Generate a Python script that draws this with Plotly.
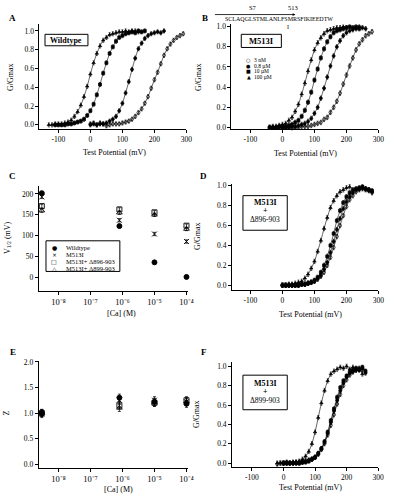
import plotly.graph_objects as go

W, H = 394, 499
FONT = "Liberation Serif"

# ---------------- data ----------------
# Panel A : Wildtype, G/Gmax vs Test Potential (mV)
A_v_100uM = [-130, -120, -110, -100, -90, -80, -70, -60, -50, -40, -30, -20, -10, 0, 10, 20, 30, 40, 50, 60, 70, 80, 90, 100, 110, 120, 130, 140, 150]
A_g_100uM = [0.00, 0.00, 0.01, 0.01, 0.01, 0.02, 0.03, 0.05, 0.09, 0.14, 0.21, 0.30, 0.41, 0.54, 0.66, 0.76, 0.84, 0.90, 0.93, 0.96, 0.97, 0.98, 0.99, 0.99, 1.00, 0.99, 1.00, 1.00, 0.99]
A_v_10uM = [-110, -100, -90, -80, -70, -60, -50, -40, -30, -20, -10, 0, 10, 20, 30, 40, 50, 60, 70, 80, 90, 100, 110, 120, 130, 140, 150, 160, 170]
A_g_10uM = [0.00, 0.00, 0.00, 0.00, 0.01, 0.01, 0.02, 0.03, 0.04, 0.06, 0.10, 0.15, 0.22, 0.32, 0.43, 0.55, 0.66, 0.76, 0.83, 0.89, 0.93, 0.95, 0.97, 0.98, 0.99, 0.98, 1.00, 0.99, 1.00]
A_v_08uM = [0, 10, 20, 30, 40, 50, 60, 70, 80, 90, 100, 110, 120, 130, 140, 150, 160, 170, 180, 190, 200, 210, 220, 230]
A_g_08uM = [0.00, 0.01, 0.00, 0.01, 0.01, 0.02, 0.04, 0.06, 0.09, 0.15, 0.23, 0.34, 0.46, 0.59, 0.71, 0.81, 0.87, 0.92, 0.95, 0.97, 0.98, 0.99, 0.98, 1.00]
A_v_3nM = [0, 10, 20, 30, 40, 50, 60, 70, 80, 90, 100, 110, 120, 130, 140, 150, 160, 170, 180, 190, 200, 210, 220, 230, 240, 250, 260, 270, 280, 290]
A_g_3nM = [0.01, 0.02, 0.00, 0.02, 0.01, -0.01, 0.00, 0.01, 0.01, 0.01, 0.02, 0.03, 0.04, 0.06, 0.09, 0.13, 0.17, 0.23, 0.30, 0.39, 0.48, 0.56, 0.65, 0.74, 0.81, 0.86, 0.90, 0.93, 0.95, 0.97]

# Panel B : M513I
B_v_100uM = [-40, -30, -20, -10, 0, 10, 20, 30, 40, 50, 60, 70, 80, 90, 100, 110, 120, 130, 140, 150, 160, 170, 180, 190, 200]
B_g_100uM = [0.00, 0.01, 0.01, 0.02, 0.03, 0.04, 0.07, 0.10, 0.16, 0.23, 0.33, 0.44, 0.56, 0.67, 0.77, 0.84, 0.89, 0.93, 0.96, 0.97, 0.98, 0.99, 0.99, 1.00, 0.99]
B_v_10uM = [-40, -30, -20, -10, 0, 10, 20, 30, 40, 50, 60, 70, 80, 90, 100, 110, 120, 130, 140, 150, 160, 170, 180, 190, 200, 210, 220, 230, 240]
B_g_10uM = [0.00, 0.00, 0.00, 0.01, 0.01, 0.01, 0.02, 0.03, 0.05, 0.07, 0.11, 0.17, 0.25, 0.35, 0.47, 0.58, 0.69, 0.78, 0.85, 0.90, 0.94, 0.96, 0.97, 0.98, 0.99, 1.00, 0.99, 1.00, 0.98]
B_v_08uM = [-40, -30, -20, -10, 0, 10, 20, 30, 40, 50, 60, 70, 80, 90, 100, 110, 120, 130, 140, 150, 160, 170, 180, 190, 200, 210, 220, 230, 240, 250, 260]
B_g_08uM = [0.00, 0.00, 0.00, 0.00, 0.00, 0.00, 0.00, 0.01, 0.01, 0.02, 0.03, 0.04, 0.06, 0.09, 0.14, 0.20, 0.29, 0.39, 0.50, 0.61, 0.71, 0.80, 0.86, 0.91, 0.94, 0.96, 0.97, 0.98, 1.00, 0.99, 0.98]
B_v_3nM = [0, 10, 20, 30, 40, 50, 60, 70, 80, 90, 100, 110, 120, 130, 140, 150, 160, 170, 180, 190, 200, 210, 220, 230, 240, 250, 260, 270, 280]
B_g_3nM = [0.00, 0.00, 0.00, -0.01, 0.00, 0.00, 0.01, 0.01, 0.01, 0.02, 0.03, 0.04, 0.05, 0.08, 0.10, 0.15, 0.20, 0.26, 0.34, 0.43, 0.52, 0.61, 0.69, 0.77, 0.83, 0.87, 0.91, 0.93, 0.95]

# Panel D : M513I + delta896-903
D_v_100uM = [0, 10, 20, 30, 40, 50, 60, 70, 80, 90, 100, 110, 120, 130, 140, 150, 160, 170, 180, 190, 200, 210]
D_g_100uM = [0.00, 0.00, 0.01, 0.01, 0.02, 0.03, 0.04, 0.07, 0.11, 0.17, 0.24, 0.34, 0.45, 0.57, 0.68, 0.78, 0.85, 0.90, 0.94, 0.96, 0.98, 0.99]
D_v_other = [0, 10, 20, 30, 40, 50, 60, 70, 80, 90, 100, 110, 120, 130, 140, 150, 160, 170, 180, 190, 200, 210, 220, 230, 240, 250, 260, 270, 280]
D_g_10uM = [0.00, 0.00, 0.00, 0.00, 0.00, 0.00, 0.01, 0.01, 0.02, 0.03, 0.05, 0.08, 0.13, 0.20, 0.29, 0.40, 0.52, 0.65, 0.75, 0.83, 0.89, 0.93, 0.96, 0.97, 0.98, 0.99, 0.97, 0.96, 0.95]
D_g_08uM = [0.00, 0.00, 0.00, 0.00, 0.00, 0.00, 0.01, 0.01, 0.02, 0.03, 0.04, 0.07, 0.10, 0.16, 0.23, 0.33, 0.44, 0.56, 0.67, 0.77, 0.84, 0.89, 0.93, 0.96, 0.97, 0.98, 0.97, 0.96, 0.94]
D_g_3nM = [0.00, 0.00, 0.00, 0.00, 0.00, 0.00, 0.01, 0.01, 0.02, 0.03, 0.04, 0.06, 0.09, 0.13, 0.20, 0.28, 0.38, 0.49, 0.60, 0.70, 0.79, 0.86, 0.90, 0.94, 0.96, 0.97, 0.96, 0.95, 0.93]

# Panel F : M513I + delta899-903
F_v_a = [-20, -10, 0, 10, 20, 30, 40, 50, 60, 70, 80, 90, 100, 110, 120, 130, 140, 150, 160, 170, 180, 190, 200, 210, 220, 230, 240, 250]
F_v_b = [0, 10, 20, 30, 40, 50, 60, 70, 80, 90, 100, 110, 120, 130, 140, 150, 160, 170, 180, 190, 200, 210, 220, 230, 240, 250, 260]
F_g_100uM = [0.00, 0.00, 0.00, 0.00, 0.00, 0.01, 0.01, 0.02, 0.04, 0.07, 0.12, 0.20, 0.32, 0.47, 0.62, 0.75, 0.85, 0.92, 0.95, 0.97, 0.99, 0.98, 1.00, 0.97, 0.99, 0.96, 0.98, 0.92]
F_g_10uM = [0.00, 0.00, 0.00, 0.00, 0.00, 0.00, 0.01, 0.01, 0.02, 0.04, 0.06, 0.10, 0.15, 0.22, 0.32, 0.44, 0.56, 0.68, 0.78, 0.85, 0.90, 0.94, 0.96, 0.98, 0.97, 0.99, 0.95]
F_g_08uM = [0.00, 0.00, 0.00, 0.00, 0.00, 0.00, 0.01, 0.02, 0.03, 0.04, 0.06, 0.10, 0.15, 0.22, 0.31, 0.42, 0.54, 0.65, 0.75, 0.83, 0.89, 0.93, 0.95, 0.97, 0.96, 0.98, 0.93]
F_g_3nM = [-0.01, 0.00, 0.00, 0.01, 0.00, 0.00, 0.01, 0.01, 0.01, 0.02, 0.03, 0.04, 0.06, 0.09, 0.14, 0.20, 0.29, 0.39, 0.50, 0.61, 0.71, 0.80, 0.86, 0.91, 0.94, 0.96, 0.97, 0.96]

# Panels C and E : [Ca] (M)
Ca_conc = [3e-9, 8e-7, 1e-5, 1e-4]
C_V12_wildtype = [202, 123, 36, 1]
C_V12_M513I = [193, 137, 104, 86]
C_V12_d896 = [171, 163, 156, 124]
C_V12_d899 = [160, 155, 150, 116]
E_Z_wildtype = [1.00, 1.30, 1.22, 1.18]
E_Z_M513I = [0.98, 1.25, 1.25, 1.22]
E_Z_d896 = [1.00, 1.15, 1.20, 1.25]
E_Z_d899 = [1.00, 1.10, 1.20, 1.22]

GV_ticks = [-100, 0, 100, 200, 300]
GV_ticklabels = ["-100", "0", "100", "200", "300"]
Ca_ticks = [1e-8, 1e-7, 1e-6, 1e-5, 1e-4]
Ca_ticklabels = ["10⁻⁸", "10⁻⁷", "10⁻⁶", "10⁻⁵", "10⁻⁴"]
G_ticks = [0.0, 0.2, 0.4, 0.6, 0.8, 1.0]
V_ticks = [0, 50, 100, 150, 200]
Z_ticks = [0.0, 0.5, 1.0, 1.5, 2.0]

conc_labels = ["3 nM", "0.8 µM", "10 µM", "100 µM"]
group_labels = ["Wildtype", "M513I", "M513I+ Δ896-903", "M513I+ Δ899-903"]
sequence = "SCLAQGLSTMLANLFSMRSFIKIEEDTW"

# ---------------- styles ----------------
SYM = {"3nM": "circle-open", "08uM": "circle", "10uM": "square", "100uM": "triangle-up"}
GROUP_SYM = ["circle", "x-thin-open", "square-open", "triangle-up-open"]

fig = go.Figure()

def gv(v, g, sym, ax):
    fig.add_trace(go.Scatter(
        x=v, y=g, mode="lines+markers", xaxis="x" + ax, yaxis="y" + ax,
        line=dict(color="black", width=0.6, shape="spline", smoothing=0.8),
        marker=dict(symbol=sym, size=3.0, color="black", line=dict(color="black", width=0.7)),
        error_y=dict(type="constant", value=0.022, thickness=0.6, width=1, color="black"),
        cliponaxis=False, showlegend=False))

gv(A_v_100uM, A_g_100uM, SYM["100uM"], "")
gv(A_v_10uM, A_g_10uM, SYM["10uM"], "")
gv(A_v_08uM, A_g_08uM, SYM["08uM"], "")
gv(A_v_3nM, A_g_3nM, SYM["3nM"], "")
gv(B_v_100uM, B_g_100uM, SYM["100uM"], "2")
gv(B_v_10uM, B_g_10uM, SYM["10uM"], "2")
gv(B_v_08uM, B_g_08uM, SYM["08uM"], "2")
gv(B_v_3nM, B_g_3nM, SYM["3nM"], "2")
gv(D_v_100uM, D_g_100uM, SYM["100uM"], "4")
gv(D_v_other, D_g_10uM, SYM["10uM"], "4")
gv(D_v_other, D_g_08uM, SYM["08uM"], "4")
gv(D_v_other, D_g_3nM, SYM["3nM"], "4")
gv(F_v_a, F_g_100uM, SYM["100uM"], "6")
gv(F_v_b, F_g_10uM, SYM["10uM"], "6")
gv(F_v_b, F_g_08uM, SYM["08uM"], "6")
gv(F_v_a, F_g_3nM, SYM["3nM"], "6")

def pts(y, sym, ax, err):
    fig.add_trace(go.Scatter(
        x=Ca_conc, y=y, mode="markers", xaxis="x" + ax, yaxis="y" + ax,
        marker=dict(symbol=sym, size=5, color="black", line=dict(color="black", width=0.9)),
        error_y=dict(type="constant", value=err, thickness=0.7, width=1.5, color="black"),
        cliponaxis=False, showlegend=False))

for yv, s in zip([C_V12_wildtype, C_V12_M513I, C_V12_d896, C_V12_d899], GROUP_SYM):
    pts(yv, s, "3", 4)
for yv, s in zip([E_Z_wildtype, E_Z_M513I, E_Z_d896, E_Z_d899], GROUP_SYM):
    pts(yv, s, "5", 0.07)

# ---------------- axes ----------------
def fx(a, b):
    return [a / W, b / W]

def fy(bottom, top):
    return [1 - bottom / H, 1 - top / H]

tickfont = dict(family=FONT, size=7.5, color="black")
common = dict(showline=True, linecolor="black", linewidth=1, ticks="outside", ticklen=3,
              tickwidth=1, tickcolor="black", showgrid=False,
              zeroline=False, mirror=False, fixedrange=True)
logfont = dict(family=FONT, size=8.5, color="black")

layout = dict(
    xaxis=dict(domain=fx(40, 189.3), range=[-159.4, 300], anchor="y", tickvals=GV_ticks, ticktext=GV_ticklabels, tickfont=tickfont, **common),
    yaxis=dict(domain=fy(128, 21.7), range=[-0.049, 1.069], anchor="x", tickvals=G_ticks, tickformat=".1f", tickfont=tickfont, **common),
    xaxis2=dict(domain=fx(235, 384.3), range=[-159.4, 300], anchor="y2", tickvals=GV_ticks, ticktext=GV_ticklabels, tickfont=tickfont, **common),
    yaxis2=dict(domain=fy(128, 21.7), range=[-0.02, 1.0225], anchor="x2", tickvals=G_ticks, tickformat=".1f", tickfont=tickfont, **common),
    xaxis3=dict(domain=fx(39.3, 191.3), type="log", range=[-8.62, -3.94], anchor="y3", tickvals=Ca_ticks, ticktext=Ca_ticklabels, tickfont=logfont, **common),
    yaxis3=dict(domain=fy(291.7, 185), range=[-33.2, 219.7], anchor="x3", tickvals=V_ticks, tickfont=tickfont, **common),
    xaxis4=dict(domain=fx(235.5, 384.3), range=[-158, 300], anchor="y4", tickvals=GV_ticks, ticktext=GV_ticklabels, tickfont=tickfont, **common),
    yaxis4=dict(domain=fy(290, 183.3), range=[-0.043, 1.017], anchor="x4", tickvals=G_ticks, tickformat=".1f", tickfont=tickfont, **common),
    xaxis5=dict(domain=fx(39.3, 191.3), type="log", range=[-8.62, -3.94], anchor="y5", tickvals=Ca_ticks, ticktext=Ca_ticklabels, tickfont=logfont, **common),
    yaxis5=dict(domain=fy(470.7, 362.3), range=[-0.077, 2.019], anchor="x5", tickvals=Z_ticks, tickformat=".1f", tickfont=tickfont, **common),
    xaxis6=dict(domain=fx(235.7, 384), range=[-163, 300], anchor="y6", tickvals=GV_ticks, ticktext=GV_ticklabels, tickfont=tickfont, **common),
    yaxis6=dict(domain=fy(470, 363.3), range=[-0.044, 1.045], anchor="x6", tickvals=G_ticks, tickformat=".1f", tickfont=tickfont, **common),
)

# ---------------- text ----------------
ann = []

def txt(x, y, s, size, bold=False, xanchor="center", angle=0, family=FONT):
    ann.append(dict(x=x / W, y=1 - y / H, xref="paper", yref="paper",
                    text=("<b>%s</b>" % s) if bold else s, showarrow=False,
                    font=dict(family=family, size=size, color="black"),
                    xanchor=xanchor, yanchor="middle", textangle=angle, borderpad=0))

# panel letters
for L, x, y in [("A", 13, 15), ("B", 208, 15), ("C", 13, 175), ("D", 207, 175), ("E", 13, 353), ("F", 207, 353)]:
    txt(x, y, L, 9, bold=True)

# axis titles
for x, y in [(116, 151), (310, 152), (315, 315), (315, 490.5)]:
    txt(x, y, "Test Potential (mV)", 8)
for x, y in [(123, 314), (120, 492)]:
    txt(x, y, "[Ca] (M)", 8)
for x, y in [(10, 75), (201, 75), (200, 236), (200, 416)]:
    txt(x, y, "G/Gmax", 8, angle=-90)
txt(8, 237, "V<sub>1/2</sub> (mV)", 8, angle=-90)
txt(6.5, 415, "Z", 8, angle=-90)

# boxed labels
txt(67.5, 37.5, "Wildtype", 8, bold=True)
txt(265.3, 38.3, "M513I", 8.5, bold=True)
txt(269.2, 202.0, "M513I", 8, bold=True)
txt(269.2, 210.5, "+", 8, bold=True)
txt(269.2, 219.0, "Δ896-903", 7.5)
txt(269.2, 385.0, "M513I", 8, bold=True)
txt(269.2, 393.5, "+", 8, bold=True)
txt(269.2, 402.0, "Δ899-903", 7.5)

# legend in B
for i, (sym, lab) in enumerate(zip(["○", "●", "■", "▲"], conc_labels)):
    yy = 57.3 + 6 * i
    txt(252.5, yy, sym, 5, family="DejaVu Sans")
    txt(256.5, yy, lab, 5.5, xanchor="left")

# legend in C
for i, (sym, lab) in enumerate(zip(["●", "×", "□", "△"], group_labels)):
    yy = 247.5 + 7 * i
    txt(55, yy, sym, 6, family="DejaVu Sans")
    txt(66.5, yy, lab, 6.5, xanchor="left")

# sequence annotation above B
txt(256.7, 5, "S7", 6.5)
txt(298, 5, "513", 6.5)
txt(283, 16.7, sequence, 6)
txt(292.7, 24, "I", 6)
ann.append(dict(x=300 / W, y=1 - 11.7 / H, xref="paper", yref="paper", text="",
                showarrow=True, ax=-82, ay=0, arrowhead=2, arrowsize=0.7,
                arrowwidth=0.8, arrowcolor="black"))

# ---------------- boxes ----------------
shapes = []
def box(x0, y0, x1, y1):
    shapes.append(dict(type="rect", xref="paper", yref="paper", x0=x0 / W, x1=x1 / W,
                       y0=1 - y1 / H, y1=1 - y0 / H, line=dict(color="black", width=1)))

box(45.7, 31.7, 89.3, 43.3)
box(245, 31.7, 285.7, 45)
box(246.7, 195, 291.7, 230)
box(246.7, 376.7, 291.7, 411.7)
box(46.7, 240.7, 121.7, 271.7)

fig.update_layout(width=W, height=H, margin=dict(l=0, r=0, t=0, b=0),
                  paper_bgcolor="white", plot_bgcolor="white", showlegend=False,
                  annotations=ann, shapes=shapes, **layout)

fig.write_html("out.html", config={"displayModeBar": False, "staticPlot": True},
               post_script="document.body.style.margin='0';document.body.style.overflow='hidden';")
